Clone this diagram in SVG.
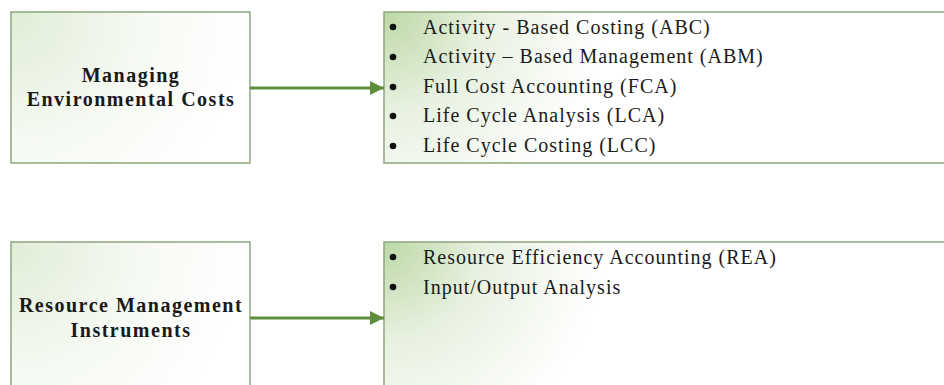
<svg xmlns="http://www.w3.org/2000/svg" width="944" height="385" viewBox="0 0 944 385">
  <defs>
    <radialGradient id="gLeftTop" gradientUnits="userSpaceOnUse" cx="11" cy="12" r="230">
      <stop offset="0" stop-color="#e0edd6"/>
      <stop offset="0.55" stop-color="#f5f9f2"/>
      <stop offset="1" stop-color="#ffffff"/>
    </radialGradient>
    <radialGradient id="gLeftBot" gradientUnits="userSpaceOnUse" cx="11" cy="242" r="230">
      <stop offset="0" stop-color="#e0edd6"/>
      <stop offset="0.55" stop-color="#f5f9f2"/>
      <stop offset="1" stop-color="#ffffff"/>
    </radialGradient>
    <radialGradient id="gRightTop" gradientUnits="userSpaceOnUse" cx="384" cy="12" r="220">
      <stop offset="0" stop-color="#bcd8a6"/>
      <stop offset="0.45" stop-color="#e8f1e0"/>
      <stop offset="1" stop-color="#ffffff"/>
    </radialGradient>
    <radialGradient id="gRightBot" gradientUnits="userSpaceOnUse" cx="384" cy="242" r="220">
      <stop offset="0" stop-color="#bcd8a6"/>
      <stop offset="0.45" stop-color="#e8f1e0"/>
      <stop offset="1" stop-color="#ffffff"/>
    </radialGradient>
    <marker id="arrow" viewBox="0 0 14 14" refX="14" refY="7" markerWidth="14" markerHeight="14" markerUnits="userSpaceOnUse" orient="auto">
      <path d="M0,0 L14,7 L0,14 Z" fill="#5f8d3e"/>
    </marker>
  </defs>
  <style>
    .box { stroke: #8fa67f; stroke-width: 1.5; }
    .title { font-family: "Liberation Serif", "Times New Roman", serif; font-weight: bold; font-size: 20px; letter-spacing: 1.5px; fill: #1a1a1a; text-anchor: middle; }
    .item { font-family: "Liberation Serif", "Times New Roman", serif; font-size: 20px; letter-spacing: 1px; fill: #1a1a1a; }
    .dot { fill: #111111; }
    .conn { stroke: #5f8d3e; stroke-width: 3; fill: none; }
  </style>
  <rect width="944" height="385" fill="#ffffff"/>

  <g id="node-managing-costs">
    <rect class="box" x="11" y="12" width="239" height="151" fill="url(#gLeftTop)"/>
    <text class="title" x="131" y="82">Managing</text>
    <text class="title" x="131" y="106">Environmental Costs</text>
  </g>

  <g id="node-costing-methods">
    <rect class="box" x="384" y="12" width="570" height="151" fill="url(#gRightTop)"/>
    <circle class="dot" cx="393" cy="27" r="3.3"/>
    <circle class="dot" cx="393" cy="57" r="3.3"/>
    <circle class="dot" cx="393" cy="87" r="3.3"/>
    <circle class="dot" cx="393" cy="116" r="3.3"/>
    <circle class="dot" cx="393" cy="146" r="3.3"/>
    <text class="item" x="423" y="34">Activity - Based Costing (ABC)</text>
    <text class="item" x="423" y="63">Activity – Based Management (ABM)</text>
    <text class="item" x="423" y="93">Full Cost Accounting (FCA)</text>
    <text class="item" x="423" y="122">Life Cycle Analysis (LCA)</text>
    <text class="item" x="423" y="152">Life Cycle Costing (LCC)</text>
  </g>

  <g id="node-resource-instruments">
    <rect class="box" x="11" y="242" width="239" height="160" fill="url(#gLeftBot)"/>
    <text class="title" x="131" y="312">Resource Management</text>
    <text class="title" x="131" y="337">Instruments</text>
  </g>

  <g id="node-resource-methods">
    <rect class="box" x="384" y="242" width="570" height="160" fill="url(#gRightBot)"/>
    <circle class="dot" cx="393" cy="257" r="3.3"/>
    <circle class="dot" cx="393" cy="287" r="3.3"/>
    <text class="item" x="423" y="264">Resource Efficiency Accounting (REA)</text>
    <text class="item" x="423" y="294">Input/Output Analysis</text>
  </g>

  <g id="connectors">
    <line class="conn" x1="250" y1="88" x2="384" y2="88" marker-end="url(#arrow)"/>
    <line class="conn" x1="250" y1="318" x2="384" y2="318" marker-end="url(#arrow)"/>
  </g>
</svg>
